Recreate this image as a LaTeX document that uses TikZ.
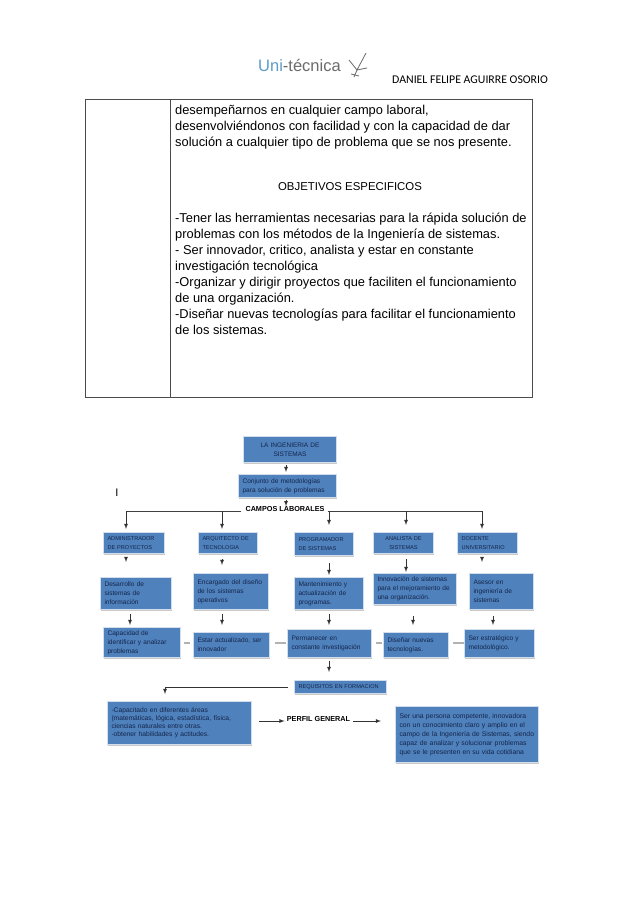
\documentclass[tikz,border=0pt]{standalone}
\usepackage{fontspec}
\usetikzlibrary{shadows}
\setmainfont{Liberation Sans}
\newfontfamily\headfont{Carlito}
\definecolor{boxblue}{HTML}{4F81BD}
\definecolor{boxedge}{HTML}{D3DEEC}
\definecolor{boxtext}{HTML}{14264A}
\definecolor{logoblue}{HTML}{5C9CC8}
\definecolor{logogray}{HTML}{6B6B6B}
\tikzset{
  bluebox/.style n args={3}{anchor=north west,fill=boxblue,draw=boxedge,line width=1pt,
    drop shadow={shadow xshift=0.5pt,shadow yshift=-1.2pt,fill=black!35,opacity=0.6},
    minimum width=#1pt,minimum height=#2pt,inner sep=0pt,text=boxtext,
    text width=#1pt-8pt,align=#3,font=\fontsize{6.6}{9}\selectfont},
  capsbox/.style={font=\fontsize{5.6}{9.5}\selectfont},
  bodytext/.style={anchor=north west,inner sep=0pt,align=left,font=\fontsize{12.85}{16}\selectfont},
  titletext/.style={inner sep=0pt,font=\fontsize{7.25}{9}\bfseries\selectfont},
  arrowline/.style={-latex,draw=black!80,line width=0.8pt},
  busline/.style={draw=black!75,line width=0.8pt},
  stubline/.style={draw=black!30,line width=1.2pt}
}
\begin{document}
\begin{tikzpicture}[x=1pt,y=-1pt]
\useasboundingbox (0,0) rectangle (638,903);
\fill[white] (0,0) rectangle (638,903);
% header
\node[inner sep=0pt,anchor=west,font=\fontsize{16.5}{18}\selectfont] (logo) at (258,66)
  {\textcolor{logoblue}{Uni}\textcolor{logogray}{-técnica}};
\draw[logogray,line width=0.8pt] (349,60) -- (357,70) -- (366,53) (357,70) -- (367,68) (357,70) -- (354,77) (351,74) -- (359,76);
\node[inner sep=0pt,anchor=west,font=\headfont\fontsize{11.8}{14}\selectfont] (autor) at (392,80) {DANIEL FELIPE AGUIRRE OSORIO};
% the table
\draw[black!70,line width=0.7pt] (85,99) rectangle (532,397);
\draw[black!70,line width=0.7pt] (170,99) -- (170,397);
\node[bodytext] (parrafo) at (175,105) {desempeñarnos en cualquier campo laboral,\\desenvolviéndonos con facilidad y con la capacidad de dar\\solución a cualquier tipo de problema que se nos presente.};
\node[bodytext,anchor=center,font=\fontsize{11.4}{14}\selectfont] (objetivos) at (350,187) {OBJETIVOS ESPECIFICOS};
\node[bodytext] (lista) at (175,213) {-Tener las herramientas necesarias para la rápida solución de\\problemas con los métodos de la Ingeniería de sistemas.\\- Ser innovador, critico, analista y estar en constante\\investigación tecnológica\\-Organizar y dirigir proyectos que faciliten el funcionamiento\\de una organización.\\-Diseñar nuevas tecnologías para facilitar el funcionamiento\\de los sistemas.};
% stray mark
\node[inner sep=0pt,font=\fontsize{11}{11}\selectfont] (marca) at (117,493) {I};
% top boxes
\node[bluebox={93}{26}{center},font=\fontsize{6.5}{9}\selectfont] (ing) at (243,436) {LA INGENIERIA DE\\SISTEMAS};
\node[bluebox={98}{23}{left}] (con) at (238,474) {Conjunto de metodologías\\para solución de problemas};
\node[titletext] (campos) at (285,509) {CAMPOS LABORALES};
% first row
\node[bluebox={61}{21}{left},capsbox] (adm) at (103,532) {ADMINISTRADOR\\DE PROYECTOS};
\node[bluebox={59}{21}{left},capsbox] (arq) at (198,532) {ARQUITECTO DE\\TECNOLOGIA};
\node[bluebox={59}{23}{left},capsbox] (pro) at (294,532) {PROGRAMADOR\\DE SISTEMAS};
\node[bluebox={60}{21}{center},capsbox] (ana) at (373,532) {ANALISTA DE\\SISTEMAS};
\node[bluebox={60}{21}{left},capsbox] (doc) at (457,532) {DOCENTE\\UNIVERSITARIO};
% second row
\node[bluebox={71}{32}{left}] (des) at (100,577) {Desarrollo de\\sistemas de\\información};
\node[bluebox={75}{36}{left}] (enc) at (193,573) {Encargado del diseño\\de los sistemas\\operativos};
\node[bluebox={69}{32}{left}] (man) at (294,577) {Mantenimiento y\\actualización de\\programas.};
\node[bluebox={83}{31}{left}] (inn) at (373,573) {Innovación de sistemas\\para el mejoramiento de\\una organización.};
\node[bluebox={64}{36}{left}] (ase) at (469,573) {Asesor en\\ingeniería de\\sistemas};
% third row
\node[bluebox={77}{30}{left}] (cap) at (103,627) {Capacidad de\\identificar y analizar\\problemas};
\node[bluebox={76}{25}{left}] (est) at (193,632) {Estar actualizado, ser\\innovador};
\node[bluebox={84}{28}{left}] (per) at (287,629) {Permanecer en\\constante investigación};
\node[bluebox={65}{25}{left}] (dis) at (383,632) {Diseñar nuevas\\tecnologías.};
\node[bluebox={70}{28}{left}] (sere) at (464,629) {Ser estratégico y\\metodológico.};
% bottom part
\node[bluebox={92}{13}{left},capsbox] (req) at (294,680) {REQUISITOS EN FORMACION};
\node[bluebox={144}{43}{left},font=\fontsize{6.7}{8}\selectfont] (cpc) at (107,701) {-Capacitado en diferentes áreas\\(matemáticas, lógica, estadística, física,\\ciencias naturales entre otras.\\-obtener habilidades y actitudes.};
\node[titletext] (perfil) at (318.5,719) {PERFIL GENERAL};
\node[bluebox={143}{56}{left},font=\fontsize{6.8}{9}\selectfont] (sun) at (395,706) {Ser una persona competente, innovadora\\con un conocimiento claro y amplio en el\\campo de la Ingeniería de Sistemas, siendo\\capaz de analizar y solucionar problemas\\que se le presenten en su vida cotidiana};
% helper columns for the connectors
\coordinate (colA) at (126,511);
\coordinate (colB) at (222,511);
\coordinate (colC) at (329,511);
\coordinate (colD) at (406,511);
\coordinate (colE) at (482,511);
\coordinate (colF) at (130,600);
\coordinate (colG) at (413,600);
\coordinate (colH) at (493,600);
\coordinate (colJ) at (165,694);
\coordinate (colK) at (286,470);
% connectors on top
\draw[arrowline,shorten <=2pt,shorten >=2pt] (colK |- ing.south) -- (colK |- con.north);
\draw[arrowline,shorten <=2pt] (colK |- con.south) -- (colK |- campos.north);
\draw[busline,shorten <=4pt] (campos.west |- colA) -- (colA);
\draw[busline,shorten <=3pt] (campos.east |- colA) -- (colE);
\draw[arrowline,shorten >=3pt] (colA) -- (colA |- adm.north);
\draw[arrowline,shorten >=3pt] (colB) -- (colB |- arq.north);
\draw[arrowline,shorten >=7pt] (colC) -- (colC |- pro.north);
\draw[arrowline,shorten >=7pt] (colD) -- (colD |- ana.north);
\draw[arrowline,shorten >=3pt] (colE) -- (colE |- doc.north);
% row one to row two
\draw[arrowline,shorten <=3pt,shorten >=15pt] (colA |- adm.south) -- (colA |- des.north);
\draw[arrowline,shorten <=5pt,shorten >=8pt] (colB |- arq.south) -- (colB |- enc.north);
\draw[arrowline,shorten <=7pt,shorten >=2pt] (colC |- pro.south) -- (colC |- man.north);
\draw[arrowline,shorten <=5pt,shorten >=1pt] (colD |- ana.south) -- (colD |- inn.north);
\draw[arrowline,shorten <=4pt,shorten >=11pt] (colE |- doc.south) -- (colE |- ase.north);
% row two to row three
\draw[arrowline,shorten <=4pt,shorten >=2pt] (colF |- des.south) -- (colF |- cap.north);
\draw[arrowline,shorten <=4pt,shorten >=7pt] (colB |- enc.south) -- (colB |- est.north);
\draw[arrowline,shorten <=4pt,shorten >=4pt] (colC |- man.south) -- (colC |- per.north);
\draw[arrowline,shorten <=11pt,shorten >=7pt] (colG |- inn.south) -- (colG |- dis.north);
\draw[arrowline,shorten <=6pt,shorten >=4pt] (colH |- ase.south) -- (colH |- sere.north);
% short stubs between the boxes of row three
\draw[stubline,shorten <=3pt,shorten >=3pt] (cap.east |- 0,643) -- (est.west |- 0,643);
\draw[stubline,shorten <=5pt,shorten >=1pt] (est.east |- 0,643) -- (per.west |- 0,643);
\draw[stubline,shorten <=4pt,shorten >=1pt] (per.east |- 0,643) -- (dis.west |- 0,643);
\draw[stubline,shorten <=4pt] (dis.east |- 0,643) -- (sere.west |- 0,643);
% to the bottom part
\draw[arrowline,shorten <=3pt,shorten >=8pt] (colC |- per.south) -- (colC |- req.north);
\draw[arrowline,shorten <=6pt,shorten >=7pt] (req.west) -- (colJ |- req.west) -- (colJ |- cpc.north);
\draw[arrowline,shorten <=7pt,shorten >=2pt] (cpc.east |- 0,721) -- (perfil.west |- 0,721);
\draw[arrowline,shorten <=3pt,shorten >=14pt] (perfil.east |- 0,721) -- (sun.west |- 0,721);
\end{tikzpicture}
\end{document}
